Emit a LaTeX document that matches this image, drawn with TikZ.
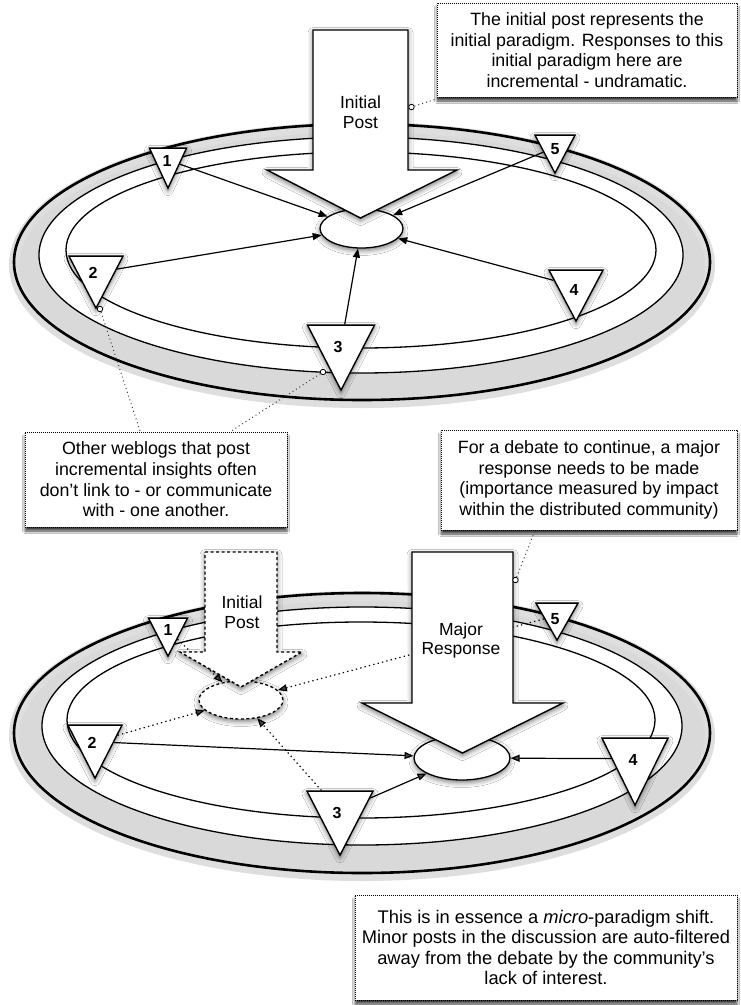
\documentclass[tikz,border=0pt]{standalone}
\usepackage{fontspec}
\setmainfont{Liberation Sans}
\usetikzlibrary{shapes.geometric,arrows.meta,shadows.blur}

\tikzset{
  ringband/.style={fill=black!15, even odd rule},
  ringhalo/.style={line width=10pt, draw=black!13},
  ringthick/.style={line width=2.6pt},
  ringthin/.style={line width=1.3pt},
  softshadow/.style={blur shadow={shadow xshift=0pt, shadow yshift=-2.5pt,
      shadow blur radius=5pt, shadow opacity=55}},
  hub/.style={ellipse, draw, line width=1.3pt, fill=white, inner sep=0pt, softshadow},
  ghosthub/.style={hub, dash pattern=on 3pt off 2.5pt},
  post/.style={isosceles triangle, isosceles triangle stretches, shape border rotate=270,
      draw, line width=1.4pt, fill=white, inner sep=0pt, anchor=apex, softshadow},
  postnum/.style={font=\fontsize{16}{16}\selectfont\bfseries, inner sep=0pt},
  bigarrow/.style={draw, line width=1.4pt, fill=white, line join=miter, softshadow},
  ghostarrow/.style={bigarrow, dash pattern=on 3pt off 2.5pt},
  arrowtext/.style={align=center, font=\fontsize{17.5}{19.5}\selectfont, inner sep=0pt},
  link/.style={line width=1.2pt, -{Triangle[length=9pt,width=7pt]}},
  weaklink/.style={link, dash pattern=on 1.3pt off 3.2pt},
  note/.style={draw, line width=.8pt, dash pattern=on .8pt off 1.2pt, fill=white,
      align=center, inner sep=0pt, font=\fontsize{17.8}{20.7}\selectfont,
      blur shadow={shadow xshift=0pt, shadow yshift=-4pt, shadow blur radius=2.5pt,
        shadow opacity=75}},
  pin/.style={line width=1pt, dash pattern=on 1pt off 3pt, draw=black!75},
  pinhead/.style={circle, draw, line width=.8pt, fill=white, inner sep=0pt, minimum size=5.5pt},
}

\begin{document}
\begin{tikzpicture}[x=1pt, y=-1pt]
\useasboundingbox (0,0) rectangle (740,1005);
\fill[white] (0,0) rectangle (740,1005);

% ================= upper scene: the initial post =================
% three concentric lanes
\fill[ringband] (362,262) ellipse [x radius=348, y radius=138]
                (361,255) ellipse [x radius=322, y radius=118];
\draw[ringhalo] (362,265) ellipse [x radius=348, y radius=138];
\draw[ringthick] (362,262) ellipse [x radius=348, y radius=138];
\draw[ringthin] (361,255) ellipse [x radius=322, y radius=118];
\draw[ringthin] (361,250) ellipse [x radius=295, y radius=98];

\node[hub, minimum width=83pt, minimum height=39pt] (hubA) at (361.5,228.5) {};

% responding weblogs
\node[post, minimum width=37pt, minimum height=40pt] (a1) at (168,190) {};
\node[post, minimum width=54pt, minimum height=52pt] (a2) at (96,310) {};
\node[post, minimum width=67pt, minimum height=65pt] (a3) at (341,392) {};
\node[post, minimum width=54pt, minimum height=51pt] (a4) at (576,323) {};
\node[post, minimum width=40pt, minimum height=38pt] (a5) at (555,175) {};

\draw[link] (a1) -- (hubA);
\draw[link] (a2) -- (hubA);
\draw[link] (a3) -- (hubA);
\draw[link] (a4) -- (hubA);
\draw[link] (a5) -- (hubA);

% the initial post
\draw[bigarrow] (313,30) -- (408,30) -- (408,170) -- (457,170) -- (360.5,218)
                -- (267,170) -- (313,170) -- cycle;
\node[arrowtext] (postA) at (360.5,112) {Initial\\Post};

\node[postnum] (na1) at (167,161) {1};
\node[postnum] (na2) at (93,273) {2};
\node[postnum] (na3) at (338,347) {3};
\node[postnum] (na4) at (574,290) {4};
\node[postnum] (na5) at (555,149) {5};

% notes
\node[note, minimum width=300pt, minimum height=94pt] (noteA) at (587,50)
  {The initial post represents the\\initial paradigm. Responses to this\\initial paradigm here are\\incremental - undramatic.};
\node[pinhead] (pinA) at (411.5,107) {};
\draw[pin] (pinA) -- (noteA);

\node[note, minimum width=262pt, minimum height=95pt] (noteB) at (156,479.5)
  {Other weblogs that post\\incremental insights often\\don't link to - or communicate\\with - one another.};
\node[pinhead] (pinB1) at (100,309) {};
\node[pinhead] (pinB2) at (323,372) {};
\draw[pin] (pinB1) -- (noteB);
\draw[pin] (pinB2) -- (noteB);

\node[note, minimum width=296pt, minimum height=100pt] (noteC) at (589,480)
  {For a debate to continue, a major\\response needs to be made\\(importance measured by impact\\within the distributed community)};

% ================= lower scene: the major response =================
\fill[ringband] (362,733) ellipse [x radius=348, y radius=140]
                (362,726) ellipse [x radius=320, y radius=119];
\draw[ringhalo] (362,736) ellipse [x radius=348, y radius=140];
\draw[ringthick] (362,733) ellipse [x radius=348, y radius=140];
\draw[ringthin] (362,726) ellipse [x radius=320, y radius=119];
\draw[ringthin] (361,720) ellipse [x radius=294, y radius=98];

\node[ghosthub, minimum width=84pt, minimum height=38pt] (hubB) at (241,700) {};
\node[hub, minimum width=96pt, minimum height=44pt] (hubC) at (462,758) {};

\node[post, minimum width=39pt, minimum height=38pt] (b1) at (168,658) {};
\node[post, minimum width=54pt, minimum height=53pt] (b2) at (95,780) {};
\node[post, minimum width=66pt, minimum height=64pt] (b3) at (340,857) {};
\node[post, minimum width=66pt, minimum height=67pt] (b4) at (635,807) {};
\node[post, minimum width=42pt, minimum height=37pt] (b5) at (557,642) {};

% links to the fading initial post
\draw[weaklink] (b1) -- (hubB);
\draw[weaklink] (b2) -- (hubB);
\draw[weaklink] (b3) -- (hubB);
\draw[weaklink] (b5) -- (hubB);

\draw[ghostarrow] (205,552) -- (277,552) -- (277,652) -- (302,652) -- (241,687)
                  -- (180,652) -- (205,652) -- cycle;
\node[arrowtext] (postB) at (242,612) {Initial\\Post};

\draw[bigarrow] (412,552) -- (513,552) -- (513,703) -- (563,703) -- (462.5,753)
                -- (362,703) -- (412,703) -- cycle;
\node[arrowtext] (major) at (461,640.5) {Major\\Response};

% links to the major response
\draw[link] (b2) -- (hubC);
\draw[link] (b3) -- (hubC);
\draw[link] (b4) -- (hubC);

\node[postnum] (nb1) at (168,630) {1};
\node[postnum] (nb2) at (92,743) {2};
\node[postnum] (nb3) at (337,813) {3};
\node[postnum] (nb4) at (633,760) {4};
\node[postnum] (nb5) at (555,619) {5};

\node[pinhead] (pinC) at (515.5,580) {};
\draw[pin] (pinC) -- (noteC.223);

\node[note, font=\fontsize{18.3}{20.2}\selectfont, minimum width=382pt, minimum height=105pt]
  (noteD) at (546,947.5)
  {This is in essence a \textit{micro}-paradigm shift.\\Minor posts in the discussion are auto-filtered\\away from the debate by the community's\\lack of interest.};
\end{tikzpicture}
\end{document}
